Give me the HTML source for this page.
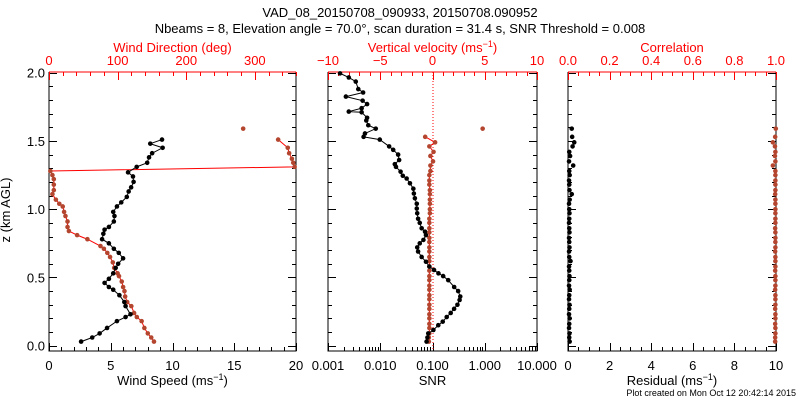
<!DOCTYPE html>
<html><head><meta charset="utf-8"><style>
html,body{margin:0;padding:0;background:#fff;}
svg{display:block;font-family:"Liberation Sans",sans-serif;}
</style></head><body>
<svg id="c" width="800" height="400" viewBox="0 0 800 400">
<text x="400" y="17" font-size="13" text-anchor="middle">VAD_08_20150708_090933, 20150708.090952</text>
<text x="400" y="33" font-size="13" text-anchor="middle">Nbeams = 8, Elevation angle = 70.0°, scan duration = 31.4 s, SNR Threshold = 0.008</text>
<text x="10" y="210" font-size="13" text-anchor="middle" transform="rotate(-90 10 210)">z (km AGL)</text>
<text x="796" y="396" font-size="9" text-anchor="end">Plot created on Mon Oct 12 20:42:14 2015</text>
</svg>
<script>
// ---- data ----
const zWind = [0.03,0.06,0.09,0.13,0.18,0.21,0.23,0.29,0.32,0.37,0.41,0.43,0.46,0.49,0.53,0.57,0.60,0.64,0.68,0.71,0.75,0.78,0.82,0.85,0.87,0.91,0.95,0.98,1.02,1.05,1.09,1.13,1.16,1.20,1.24,1.27,1.31,1.34,1.38,1.41,1.45,1.48,1.51];
const windSpeed = [2.6,3.5,4.1,4.7,5.5,6.2,6.6,6.2,6.1,5.7,5.2,4.85,4.5,4.85,5.2,5.4,5.6,6.0,5.65,5.25,4.85,4.3,4.4,4.5,4.85,5.25,5.3,5.2,5.5,5.85,6.3,6.45,6.65,6.85,6.8,6.4,7.1,7.95,8.1,8.35,9.2,8.2,9.15];
const zDir = [0.03,0.06,0.09,0.13,0.18,0.21,0.24,0.29,0.32,0.36,0.40,0.43,0.47,0.51,0.53,0.57,0.61,0.65,0.68,0.71,0.73,0.78,0.81,0.84,0.87,0.91,0.95,0.98,1.02,1.04,1.07,1.11,1.14,1.18,1.22,1.25,1.28,1.31,1.34,1.37,1.41,1.45,1.51,1.59];
const windDir = [153,149,144,139,135,128,124,120,114,111,110,108,106,102,100,95,93,89,85,80,75,56,41,29,27,27,24,22,20,15,10,5,7,7,7,5,2,358,356,354,350,348,334,283];
const zSnr = [0.03,0.06,0.09,0.115,0.15,0.176,0.21,0.24,0.27,0.30,0.335,0.36,0.40,0.43,0.48,0.51,0.53,0.555,0.58,0.615,0.65,0.69,0.72,0.75,0.775,0.81,0.835,0.86,0.90,0.93,0.97,1.005,1.04,1.08,1.115,1.15,1.19,1.225,1.245,1.275,1.31,1.33,1.36,1.40,1.435,1.46,1.51,1.53,1.555,1.59,1.615,1.65,1.67,1.71,1.715,1.74,1.77,1.795,1.825,1.855,1.88,1.935,1.965,1.995];
const snr = [0.077,0.080,0.083,0.104,0.129,0.157,0.187,0.223,0.259,0.30,0.33,0.34,0.31,0.26,0.20,0.16,0.13,0.107,0.087,0.075,0.062,0.053,0.051,0.057,0.067,0.075,0.072,0.062,0.057,0.053,0.051,0.050,0.050,0.046,0.044,0.043,0.037,0.032,0.027,0.0245,0.020,0.019,0.023,0.022,0.0177,0.0148,0.0098,0.0048,0.0051,0.0082,0.0059,0.0054,0.0056,0.0044,0.0025,0.0044,0.0056,0.0046,0.0022,0.0047,0.0038,0.0034,0.0025,0.0017];
const zLev = [0.03,0.06,0.09,0.13,0.16,0.20,0.23,0.27,0.30,0.34,0.37,0.41,0.44,0.48,0.51,0.55,0.58,0.62,0.65,0.69,0.72,0.76,0.79,0.83,0.86,0.90,0.93,0.97,1.00,1.04,1.07,1.11,1.14,1.18,1.21,1.25,1.28,1.32,1.35,1.39,1.42,1.46,1.49,1.53,1.59];
const wVel = [-0.35,-0.35,-0.3,-0.3,-0.3,-0.3,-0.3,-0.3,-0.3,-0.3,-0.3,-0.3,-0.3,-0.3,-0.3,-0.3,-0.3,-0.3,-0.3,-0.3,-0.3,-0.3,-0.3,-0.3,-0.3,-0.3,-0.3,-0.25,-0.25,-0.25,-0.25,-0.25,-0.25,-0.3,-0.3,-0.3,-0.2,-0.2,0.05,-0.2,0.1,-0.3,0.25,-0.7,4.8];
const resid = [0.08,0.06,0.07,0.05,0.06,0.08,0.05,0.06,0.07,0.05,0.06,0.08,0.05,0.06,0.07,0.06,0.05,0.12,0.06,0.05,0.07,0.06,0.05,0.07,0.06,0.05,0.06,0.07,0.06,0.05,0.08,0.18,0.07,0.06,0.05,0.08,0.06,0.25,0.05,0.1,0.06,0.22,0.3,0.2,0.18];
const corr = [0.996,0.996,0.997,0.997,0.996,0.997,0.997,0.996,0.997,0.997,0.997,0.996,0.997,0.997,0.997,0.996,0.997,0.997,0.997,0.996,0.997,0.997,0.997,0.997,0.996,0.997,0.997,0.997,0.997,0.997,0.997,0.996,0.997,0.997,0.997,0.997,0.997,0.985,0.997,0.995,0.997,0.995,0.985,0.996,0.999];
const speedTicks = ["0","5","10","15","20"];
const dirTicks = ["0","100","200","300"];
const snrTicks = ["0.001","0.010","0.100","1.000","10.000"];
const wTicks = ["\u221210","\u22125","0","5","10"];
const residTicks = ["0","2","4","6","8","10"];
const corrTicks = ["0.0","0.2","0.4","0.6","0.8","1.0"];
const zTicks = ["0.0","0.5","1.0","1.5","2.0"];

const svg = document.getElementById('c');
const NS = 'http://www.w3.org/2000/svg';
const RED = '#ff0000', BROWN = '#b4452e';
function mk(tag, at, parent){const e=document.createElementNS(NS,tag);for(const k in at)e.setAttribute(k,at[k]);(parent||svg).appendChild(e);return e;}
const Y0 = 72, Y1 = 351;
const yz = z => 345.7 - z*136.5;

function panel(name,x0,x1){
  const g = mk('g',{});
  
  
  mk('path',{d:`M${x0},${Y0}V${Y1}H${x1}V${Y0}`,fill:'none',stroke:'#000','stroke-width':1},g);
  mk('line',{x1:x0,x2:x1,y1:Y0,y2:Y0,stroke:RED,'stroke-width':1},g);
  for(let i=0;i<=20;i++){const z=i*0.1,y=Math.round(yz(z))+0.5,L=(i%5==0)?8:4;
    mk('line',{x1:x0,x2:x0+L,y1:y,y2:y,stroke:'#000'},g);
    mk('line',{x1:x1,x2:x1-L,y1:y,y2:y,stroke:'#000'},g);}
  return g;
}
function text(g,x,y,s,col,anchor,size){const t=mk('text',{x:x,y:y,'font-size':size||13,fill:col||'#000','text-anchor':anchor||'middle'},g);t.textContent=s;return t;}
function linTicks(g,x0,x1,n,minor,y,dir,col){const tot=n*minor;for(let i=0;i<=tot;i++){const x=Math.round(x0+(x1-x0)*i/tot)+0.5;const L=(i%minor==0)?8:4;mk('line',{x1:x,x2:x,y1:y,y2:y+dir*L,stroke:col},g);}}
function dot(g,x,y,col){const m=mk('circle',{cx:x,cy:y,r:2.3,fill:col},g);return m;}
function poly(g,pts,col,w,dash){const p=mk('polyline',{points:pts.map(p=>p.join(',')).join(' '),fill:'none',stroke:col,'stroke-width':w||1},g);if(dash)p.setAttribute('stroke-dasharray',dash);return p;}

// ---- Panel 1 ----
{const x0=49,x1=296;const g=panel('wind-panel',x0,x1);
 const xs=v=>x0+(x1-x0)*v/20, xd=v=>x0+(x1-x0)*v/360;
 linTicks(g,x0,x1,4,5,Y1,-1,'#000');
 for(let i=0;i<=18;i++){const x=Math.round(xd(i*20))+0.5;mk('line',{x1:x,x2:x,y1:Y0,y2:Y0+((i%5==0)?8:4),stroke:RED},g);}
 speedTicks.forEach((s,i)=>text(g,xs(i*5),370,s));
 dirTicks.forEach((s,i)=>text(g,xd(i*100),65,s,RED));
 zTicks.forEach((s,i)=>text(g,x0-4,yz(i*0.5)+5,s,'#000','end'));
 text(g,(x0+x1)/2,52,'Wind Direction (deg)',RED);
 const tt=text(g,(x0+x1)/2,385,'Wind Speed (ms');const sp=mk('tspan',{dy:-5,'font-size':9},tt);sp.textContent='\u22121';const sp2=mk('tspan',{dy:5},tt);sp2.textContent=')';
 const dl=poly(g,zDir.slice(0,-1).map((z,i)=>[xd(windDir[i]),yz(z)]),RED,1);
 
 zDir.forEach((z,i)=>{const m=dot(g,xd(windDir[i]),yz(z),BROWN);});
 const sl=poly(g,zWind.map((z,i)=>[xs(windSpeed[i]),yz(z)]),'#000',1);
 
 zWind.forEach((z,i)=>{const m=dot(g,xs(windSpeed[i]),yz(z),'#000');});
}
// ---- Panel 2 ----
{const x0=328,x1=537;const g=panel('snr-panel',x0,x1);
 const xl=v=>x0+(x1-x0)*(Math.log10(v)+3)/4, xw=v=>x0+(x1-x0)*(v+10)/20;
 for(let d=-3;d<1;d++)for(let k=1;k<=10;k++){const x=Math.round(xl(k*Math.pow(10,d)))+0.5;mk('line',{x1:x,x2:x,y1:Y1,y2:Y1-((k==1||k==10)?8:4),stroke:'#000'},g);}
 for(let i=0;i<=20;i++){const x=Math.round(xw(i-10))+0.5;mk('line',{x1:x,x2:x,y1:Y0,y2:Y0+((i%5==0)?8:4),stroke:RED},g);}
 snrTicks.forEach((s,i)=>text(g,xl(Math.pow(10,i-3)),370,s));
 wTicks.forEach((s,i)=>text(g,xw(i*5-10),65,s,RED));
 const tt=text(g,(x0+x1)/2,52,'Vertical velocity (ms',RED);const sp=mk('tspan',{dy:-5,'font-size':9},tt);sp.textContent='\u22121';const sp2=mk('tspan',{dy:5},tt);sp2.textContent=')';
 text(g,(x0+x1)/2,385,'SNR');
 const zl=mk('line',{x1:xw(0)+0.5,x2:xw(0)+0.5,y1:Y0,y2:Y1,stroke:RED,'stroke-dasharray':'1,2'},g);
 
 const wl=poly(g,zLev.slice(0,-1).map((z,i)=>[xw(wVel[i]),yz(z)]),RED,1);
 
 zLev.forEach((z,i)=>{const m=dot(g,xw(wVel[i]),yz(z),BROWN);});
 const sl=poly(g,zSnr.map((z,i)=>[xl(snr[i]),yz(z)]),'#000',1);
 
 zSnr.forEach((z,i)=>{const m=dot(g,xl(snr[i]),yz(z),'#000');});
}
// ---- Panel 3 ----
{const x0=568,x1=776;const g=panel('residual-panel',x0,x1);
 const xr=v=>x0+(x1-x0)*v/10, xc=v=>x0+(x1-x0)*v;
 linTicks(g,x0,x1,5,4,Y1,-1,'#000');
 linTicks(g,x0,x1,5,4,Y0,1,RED);
 residTicks.forEach((s,i)=>text(g,xr(i*2),370,s));
 corrTicks.forEach((s,i)=>text(g,xc(i*0.2),65,s,RED));
 text(g,(x0+x1)/2,52,'Correlation',RED);
 const tt=text(g,(x0+x1)/2,385,'Residual (ms');const sp=mk('tspan',{dy:-5,'font-size':9},tt);sp.textContent='\u22121';const sp2=mk('tspan',{dy:5},tt);sp2.textContent=')';
 zLev.forEach((z,i)=>{const m=dot(g,xc(corr[i]),yz(z),BROWN);});
 zLev.forEach((z,i)=>{const m=dot(g,xr(resid[i]),yz(z),'#000');});
}
</script>
</body></html>
